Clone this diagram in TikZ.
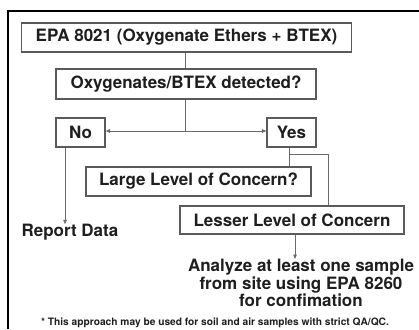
\documentclass[tikz,border=0pt]{standalone}
\usepackage{fontspec}
\setmainfont{TeX Gyre Heros}
\usetikzlibrary{arrows.meta}
\definecolor{ink}{HTML}{1E1E1E}
\definecolor{edge}{HTML}{5A5A5A}
\definecolor{wire}{HTML}{6A6A6A}
\tikzset{
  box/.style={draw=edge, line width=1.1pt, fill=white, inner sep=0pt,
    text=ink, font=\bfseries\fontsize{17}{17}\selectfont},
  label/.style={inner sep=0pt, text=ink, align=center,
    font=\bfseries\fontsize{17}{17.6}\selectfont},
  wire/.style={draw=wire, line width=0.9pt},
  tip/.style={-{Triangle[length=4.5pt,width=3.6pt]}},
  frame/.style={draw=black, line width=1.4pt}
}
\begin{document}
\begin{tikzpicture}[x=1pt,y=-1pt]
\useasboundingbox (0,0) rectangle (419,329);
% frame
\draw[frame] (8,329) -- (8,11) -- (419,11);

% boxes
\node[box, minimum width=330, minimum height=29] (epa) at (186.5,37.5) {EPA 8021 (Oxygenate Ethers + BTEX)};
\node[box, minimum width=260, minimum height=30] (det) at (186,84) {Oxygenates/BTEX detected?};
\node[box, minimum width=49, minimum height=29] (no) at (80.5,132.5) {No};
\node[box, minimum width=49, minimum height=29] (yes) at (291.5,132.5) {Yes};
\node[box, minimum width=225, minimum height=29] (large) at (198.5,181.5) {Large Level of Concern?};
\node[box, minimum width=224, minimum height=28] (lesser) at (292,220) {Lesser Level of Concern};

% text outcomes
\node[label] (report) at (70,232.5) {Report Data};
\node[label, anchor=north] (analyze) at (301,259) {Analyze at least one sample\\from site using EPA 8260\\for confimation};
\node[inner sep=0pt, text=ink, font=\bfseries\fontsize{10.2}{10.2}\selectfont] (note) at (215,323) {* This approach may be used for soil and air samples with strict QA/QC.};

% connectors
\coordinate (split) at (185,131);
\coordinate (yesdrop) at (289.5,154);
\coordinate (yesright) at (328,154);
\draw[wire] (epa.south -| split) -- (det.north -| split);
\draw[wire] (det.south -| split) -- (split);
\draw[wire, tip] (split) -- (no.east |- split);
\draw[wire, tip] (split) -- (yes.west |- split);
\draw[wire, tip] (no.south -| 65,0) -- (report.north -| 65,0);
\draw[wire] (yes.south -| yesdrop) -- (large.north -| yesdrop);
\draw[wire] (yesdrop) -- (yesright) -- (lesser.north -| yesright);
\draw[wire, tip] (lesser.south -| 295,0) -- (analyze.north -| 295,0);
\end{tikzpicture}
\end{document}
